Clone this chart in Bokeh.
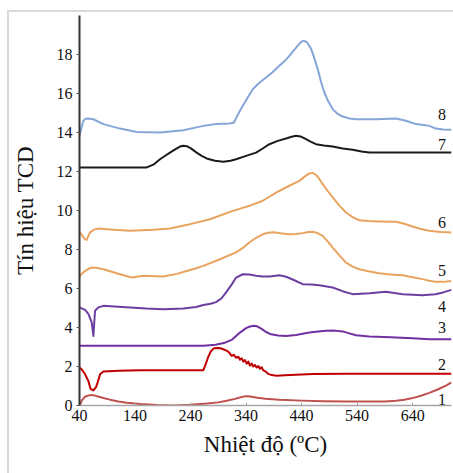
from bokeh.plotting import figure
from bokeh.models import Range1d, FixedTicker, ColumnDataSource
from bokeh.core.properties import value
from bokeh.embed import file_html
from bokeh.resources import INLINE

# ---- data (temperature °C, TCD signal) ----
t1 = [40, 44, 50, 58, 66, 75, 85, 95, 110, 125, 150, 180, 210, 240, 270, 290, 305, 320, 332, 340, 348, 360, 375, 400, 440, 480, 520, 560, 590, 610, 625, 640, 655, 670, 685, 700, 710]
s1 = [-0.05, 0.25, 0.45, 0.53, 0.52, 0.45, 0.37, 0.3, 0.21, 0.14, 0.08, 0.03, 0.0, 0.04, 0.1, 0.16, 0.24, 0.34, 0.44, 0.48, 0.46, 0.4, 0.35, 0.3, 0.25, 0.22, 0.2, 0.2, 0.21, 0.24, 0.29, 0.38, 0.5, 0.65, 0.82, 1.02, 1.18]

t2 = [40, 44, 50, 56, 60, 65, 70, 74, 77, 83, 110, 150, 200, 263, 267, 272, 277, 282, 290, 296, 301, 306, 310, 314, 318, 322, 326, 329, 332, 335, 338, 341, 344, 347, 350, 353, 356, 359, 362, 365, 368, 371, 375, 380, 386, 395, 410, 430, 460, 520, 600, 710]
s2 = [1.95, 1.85, 1.6, 1.25, 0.85, 0.77, 0.95, 1.3, 1.6, 1.74, 1.78, 1.81, 1.81, 1.81, 2.1, 2.5, 2.8, 2.93, 2.95, 2.92, 2.86, 2.8, 2.7, 2.55, 2.6, 2.45, 2.5, 2.35, 2.42, 2.25, 2.33, 2.15, 2.25, 2.05, 2.15, 2.0, 2.08, 1.95, 2.02, 1.88, 1.96, 1.8, 1.75, 1.62, 1.56, 1.53, 1.55, 1.58, 1.61, 1.63, 1.63, 1.63]

t3 = [40, 100, 200, 263, 285, 300, 315, 329, 340, 347, 354, 360, 368, 376, 385, 398, 412, 430, 454, 470, 484, 500, 514, 526, 538, 562, 600, 640, 670, 710]
s3 = [3.06, 3.06, 3.06, 3.07, 3.12, 3.2, 3.38, 3.74, 3.97, 4.05, 4.09, 4.06, 3.93, 3.77, 3.65, 3.59, 3.57, 3.62, 3.74, 3.8, 3.83, 3.84, 3.8, 3.7, 3.6, 3.54, 3.5, 3.45, 3.4, 3.4]

t4 = [40, 50, 56, 62, 65, 68, 74, 83, 110, 131, 160, 191, 227, 250, 263, 276, 286, 296, 304, 314, 322, 334, 346, 358, 370, 383, 400, 412, 424, 442, 458, 472, 496, 515, 532, 562, 592, 622, 640, 658, 681, 695, 710]
s4 = [5.03, 4.9, 4.7, 4.26, 3.57, 4.86, 5.03, 5.11, 5.06, 5.03, 4.97, 4.94, 4.97, 5.05, 5.15, 5.22, 5.3, 5.5, 5.8, 6.2, 6.56, 6.73, 6.72, 6.65, 6.62, 6.62, 6.68, 6.6, 6.46, 6.22, 6.2, 6.17, 6.05, 5.85, 5.71, 5.76, 5.83, 5.71, 5.68, 5.66, 5.71, 5.8, 5.93]

t5 = [40, 45, 50, 56, 62, 70, 83, 98, 113, 134, 155, 191, 215, 233, 250, 263, 293, 322, 335, 346, 358, 370, 380, 390, 405, 418, 430, 442, 452, 460, 468, 478, 487, 496, 508, 520, 532, 544, 560, 580, 600, 622, 640, 658, 670, 682, 695, 710]
s5 = [6.62, 6.78, 6.9, 7.0, 7.08, 7.06, 6.99, 6.86, 6.73, 6.56, 6.65, 6.62, 6.75, 6.9, 7.04, 7.16, 7.5, 7.85, 8.1, 8.36, 8.6, 8.78, 8.86, 8.88, 8.82, 8.78, 8.8, 8.84, 8.9, 8.91, 8.85, 8.7, 8.42, 8.1, 7.7, 7.33, 7.12, 6.99, 6.88, 6.78, 6.72, 6.68, 6.58, 6.48, 6.4, 6.34, 6.34, 6.39]

t6 = [40, 44, 47, 50, 53, 56, 59, 66, 74, 101, 131, 173, 203, 239, 275, 311, 346, 370, 394, 418, 436, 446, 454, 460, 466, 472, 478, 487, 496, 508, 520, 532, 544, 560, 580, 610, 625, 640, 655, 670, 690, 710]
s6 = [8.91, 8.75, 8.62, 8.52, 8.5, 8.7, 8.87, 9.02, 9.08, 9.01, 8.96, 9.01, 9.08, 9.3, 9.55, 9.93, 10.24, 10.5, 10.92, 11.27, 11.52, 11.75, 11.9, 11.93, 11.82, 11.62, 11.35, 11.0, 10.67, 10.25, 9.9, 9.66, 9.5, 9.46, 9.44, 9.42, 9.32, 9.18, 9.05, 8.96, 8.9, 8.87]

t7 = [40, 161, 173, 185, 195, 203, 213, 221, 227, 233, 240, 251, 260, 269, 284, 299, 312, 322, 340, 358, 370, 382, 397, 412, 422, 430, 438, 448, 457, 466, 480, 496, 514, 532, 548, 562, 600, 710]
s7 = [12.21, 12.21, 12.35, 12.63, 12.82, 12.97, 13.15, 13.28, 13.32, 13.3, 13.2, 12.97, 12.8, 12.67, 12.55, 12.5, 12.55, 12.63, 12.8, 12.97, 13.18, 13.4, 13.57, 13.69, 13.78, 13.83, 13.8, 13.66, 13.52, 13.4, 13.33, 13.28, 13.18, 13.11, 13.03, 12.97, 12.97, 12.97]

t8 = [40, 44, 47, 51, 56, 65, 83, 113, 143, 185, 227, 263, 286, 310, 318, 324, 334, 343, 352, 364, 376, 388, 400, 409, 418, 427, 436, 441, 445, 450, 457, 463, 469, 475, 481, 488, 496, 505, 514, 526, 538, 574, 610, 628, 646, 660, 670, 682, 695, 710]
s8 = [13.83, 14.3, 14.6, 14.7, 14.72, 14.68, 14.43, 14.2, 14.03, 14.0, 14.12, 14.34, 14.43, 14.46, 14.5, 14.85, 15.37, 15.8, 16.22, 16.55, 16.82, 17.1, 17.42, 17.65, 17.93, 18.25, 18.55, 18.68, 18.7, 18.62, 18.3, 17.8, 17.25, 16.6, 16.05, 15.6, 15.2, 14.95, 14.82, 14.72, 14.68, 14.68, 14.72, 14.6, 14.43, 14.38, 14.34, 14.2, 14.15, 14.14]

curve_names = ["1", "2", "3", "4", "5", "6", "7", "8"]
label_x = [693, 693, 693, 693, 693, 693, 693, 693]
label_y = [0.32, 2.12, 4.0, 5.08, 6.92, 9.38, 13.38, 14.92]

x_ticks = [40, 140, 240, 340, 440, 540, 640]
y_ticks = [0, 2, 4, 6, 8, 10, 12, 14, 16, 18]

series = [(t1, s1), (t2, s2), (t3, s3), (t4, s4), (t5, s5), (t6, s6), (t7, s7), (t8, s8)]
colors = ["#c0504d", "#c00000", "#7030a0", "#6b3fa0", "#e8a45e", "#e8a45e", "#1a1a1a", "#86a6d8"]

FONT = "Liberation Serif"

p = figure(width=446, height=463, output_backend="svg", toolbar_location=None,
           x_range=Range1d(40, 710), y_range=Range1d(0, 20),
           min_border_left=69, min_border_right=4, min_border_top=3, min_border_bottom=70)
p.styles = {"margin-left": "7px", "margin-top": "10px",
            "border-left": "2px solid #d9d9d9", "border-top": "2px solid #d9d9d9"}

p.outline_line_color = None
p.grid.visible = False
p.background_fill_color = "white"
p.border_fill_color = "white"

for (tx, sy), c in zip(series, colors):
    p.line(tx, sy, line_color=c, line_width=2, line_join="round")

src = ColumnDataSource(dict(x=label_x, y=label_y, t=curve_names))
p.text(x="x", y="y", text="t", source=src, text_font=value(FONT), text_font_size="16px",
       text_color="#111111", text_align="center", text_baseline="middle")

p.xaxis.ticker = FixedTicker(ticks=x_ticks)
p.yaxis.ticker = FixedTicker(ticks=y_ticks)
p.xaxis.minor_tick_line_color = None
p.yaxis.minor_tick_line_color = None
p.xaxis.major_tick_in = 3
p.xaxis.major_tick_out = 0
p.yaxis.major_tick_in = 0
p.yaxis.major_tick_out = 3
p.xaxis.axis_line_color = "#a6a6a6"
p.xaxis.major_tick_line_color = "#a6a6a6"
p.xaxis.axis_line_width = 1.5
p.yaxis.axis_line_color = "#333333"
p.yaxis.axis_line_width = 2
p.yaxis.major_tick_line_color = "#555555"

for ax in (p.xaxis[0], p.yaxis[0]):
    ax.major_label_text_font = FONT
    ax.major_label_text_font_size = "16px"
    ax.major_label_text_color = "#111111"
    ax.axis_label_text_font = FONT
    ax.axis_label_text_font_size = "23px"
    ax.axis_label_text_font_style = "normal"
    ax.axis_label_text_color = "#111111"

p.xaxis.axis_label = "Nhiệt độ (ºC)"
p.yaxis.axis_label = "Tín hiệu TCD"
p.xaxis.major_label_standoff = 4
p.yaxis.major_label_standoff = 4
p.xaxis.axis_label_standoff = 8
p.yaxis.axis_label_standoff = 16

open("out.html", "w").write(file_html(p, INLINE))
